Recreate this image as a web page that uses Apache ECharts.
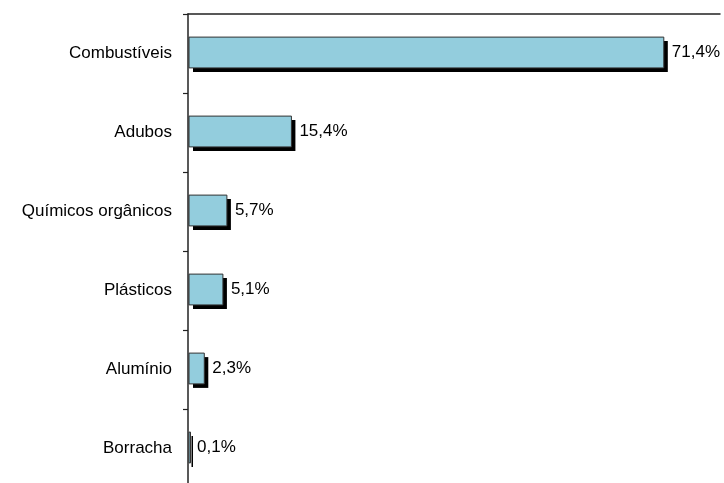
<!DOCTYPE html>
<html>
<head>
<meta charset="utf-8">
<script src="https://cdn.jsdelivr.net/npm/echarts@6/dist/echarts.min.js"></script>
<style>html,body{margin:0;padding:0;background:#fff}#c{width:724px;height:483px}</style>
</head>
<body>
<div id="c"></div>
<script>
var categories = ['Combustíveis', 'Adubos', 'Químicos orgânicos', 'Plásticos', 'Alumínio', 'Borracha'];
var values = [71.4, 15.4, 5.7, 5.1, 2.3, 0.1];
var FONT = '"Liberation Sans", Arial, sans-serif';

var seriesData = values.map(function (v, i) { return [v, i]; });

function renderBar(params, api) {
  var v = api.value(0);
  var idx = api.value(1);
  var start = api.coord([0, idx]);
  var end = api.coord([v, idx]);
  var band = api.size([0, 1])[1];
  var h = band * 0.39;
  var y = start[1] - h / 2 - 1;
  var x = start[0] + 1;
  var w = Math.max(end[0] - start[0], 1.5);
  var off = 4;
  var txt = v.toFixed(1).replace('.', ',') + '%';
  return {
    type: 'group',
    children: [
      { type: 'rect', shape: { x: x + Math.min(off, w + 1), y: y + off, width: w, height: h }, style: { fill: '#000' } },
      { type: 'rect', shape: { x: x, y: y, width: w, height: h }, style: { fill: '#93CDDD', stroke: '#333', lineWidth: 1 } },
      { type: 'text', x: x + w + Math.min(off, w + 1) + 4, y: start[1] - 1,
        style: { text: txt, fill: '#000', font: '17px ' + FONT, textVerticalAlign: 'middle', verticalAlign: 'middle', textAlign: 'left', align: 'left' } }
    ]
  };
}

var chart = echarts.init(document.getElementById('c'));
chart.setOption({
  animation: false,
  grid: { left: 188, right: 4, top: 14, height: 474, outerBoundsMode: 'none', containLabel: false },
  xAxis: {
    type: 'value', position: 'top', min: 0, max: 80,
    axisLine: { show: true, lineStyle: { color: '#222', width: 1.5 } },
    axisTick: { show: false }, axisLabel: { show: false }, splitLine: { show: false }
  },
  yAxis: {
    type: 'category', data: categories, inverse: true,
    axisLine: { show: true, lineStyle: { color: '#222', width: 1.5 } },
    axisTick: { show: true, length: 5, inside: false, lineStyle: { color: '#222', width: 1.2 } },
    axisLabel: { color: '#000', fontFamily: FONT, fontSize: 17, margin: 16 }
  },
  series: [{
    type: 'custom',
    renderItem: renderBar,
    encode: { x: 0, y: 1 },
    data: seriesData
  }]
});
</script>
</body>
</html>
